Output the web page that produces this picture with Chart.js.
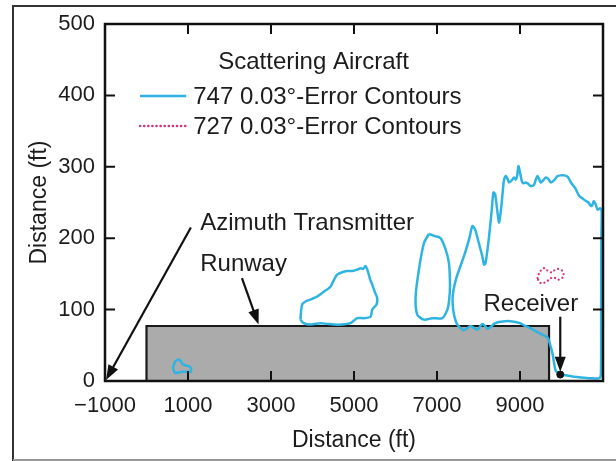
<!DOCTYPE html>
<html><head><meta charset="utf-8">
<script src="https://cdn.jsdelivr.net/npm/chart.js@4.4.1/dist/chart.umd.min.js"></script>
<style>html,body{margin:0;padding:0;background:#fff;}canvas{display:block;}</style>
</head><body>
<canvas id="c" width="616" height="461"></canvas>
<script>
// ---- data ----
const xTickValues = [-1000, 1000, 3000, 5000, 7000, 9000];
const yTickValues = [0, 100, 200, 300, 400, 500];
const innerXTicks = [1000, 3000, 5000, 7000, 9000];
const innerYTicks = [100, 200, 300, 400];

const runway = [[0,0],[0,77],[9700,77],[9700,0]];

const contour747a = [[634,18],[690,27],[760,30],[811,29],[870,24],[931,22],[1052,20],[1069,13],[890,13],[760,12],[690,11],[634,18]];

const contour747b = [[3708,86],[3749,107],[3850,112],[3949,114],[4100,118],[4271,125],[4432,132],[4520,142],[4594,149],[4700,152],[4835,154],[4960,154],[5077,156],[5157,158],[5220,157],[5277,161],[5333,154],[5390,142],[5439,135],[5500,125],[5560,116],[5543,107],[5480,103],[5439,100],[5398,90],[5250,88],[5077,88],[4915,81],[4700,79],[4512,79],[4350,80],[4191,81],[3949,79],[3788,81],[3708,86]];

const contour747c = [[6806,206],[6950,203],[7088,200],[7209,184],[7288,165],[7313,132],[7290,112],[7250,100],[7129,88],[6887,88],[6685,86],[6524,93],[6484,118],[6564,156],[6685,193],[6806,206]];

const contour747d = [[7530,76],[7571,74],[7650,71],[7730,74],[7812,77],[7900,74],[7974,72],[8094,80],[8160,77],[8215,73],[8300,76],[8376,80],[8450,82],[8537,83],[8700,84],[8858,83],[9000,81],[9100,78],[9250,74],[9341,71],[9500,66],[9664,61],[9720,52],[9785,38],[9830,22],[9864,14],[9961,10],[10100,8],[10300,6],[10468,5],[10700,4],[10910,4],[10950,10],[10955,100],[10960,200],[10967,238],[10930,242],[10870,240],[10820,248],[10775,252],[10740,246],[10710,245],[10650,250],[10589,252],[10500,256],[10427,259],[10330,270],[10226,278],[10150,286],[10065,288],[9980,288],[9905,287],[9820,281],[9744,278],[9680,283],[9623,285],[9560,281],[9502,278],[9460,283],[9422,287],[9380,282],[9340,275],[9261,273],[9200,276],[9140,278],[9080,277],[9044,280],[9000,292],[8963,301],[8930,287],[8900,282],[8858,285],[8800,281],[8738,278],[8700,283],[8657,287],[8610,280],[8560,250],[8497,222],[8460,235],[8400,262],[8360,264],[8320,240],[8250,200],[8170,165],[8134,163],[8090,175],[8000,195],[7920,212],[7853,217],[7780,200],[7680,180],[7560,160],[7470,145],[7400,128],[7375,115],[7390,100],[7430,88],[7480,80],[7530,76]];

const contour727 = [[9422,144],[9462,151],[9520,156],[9583,158],[9650,155],[9704,154],[9760,152],[9825,155],[9920,157],[10026,154],[10050,147],[9980,143],[9905,142],[9820,145],[9744,144],[9680,141],[9623,139],[9560,137],[9502,137],[9450,140],[9422,144]];

const receiver = [[9970, 9]];

const legendTitle = 'Scattering Aircraft';
const series747Label = '747 0.03°-Error Contours';
const series727Label = '727 0.03°-Error Contours';
const xTitle = 'Distance (ft)';
const yTitle = 'Distance (ft)';

// ---- styles ----
const BLUE = '#2fb4e2';
const MAGENTA = '#d8307c';
const INK = '#1c1c1c';
const FONT = '"Liberation Sans", Arial, Helvetica, sans-serif';
const toXY = a => a.map(p => ({x: p[0], y: p[1]}));
const fmt = v => v < 0 ? '\u2212' + Math.abs(v) : String(v);

function line747(pts) {
  return {data: toXY(pts), showLine: true, borderColor: BLUE, borderWidth: 2.5, pointRadius: 0, tension: 0.25, fill: false, order: 1};
}

const decor = {
  id: 'decor',
  beforeDraw(chart) {
    const ctx = chart.ctx;
    ctx.save();
    ctx.fillStyle = '#fff';
    ctx.fillRect(0, 0, chart.width, chart.height);
    ctx.strokeStyle = '#333';
    ctx.lineWidth = 2;
    ctx.beginPath();
    ctx.moveTo(13, 461); ctx.lineTo(13, 6); ctx.lineTo(616, 6);
    ctx.stroke();
    ctx.strokeStyle = '#999';
    ctx.beginPath(); ctx.moveTo(13, 460); ctx.lineTo(616, 460); ctx.stroke();
    ctx.restore();
  },
  afterDatasetsDraw(chart) {
    const ctx = chart.ctx;
    const xs = chart.scales.x, ys = chart.scales.y;
    const a = chart.chartArea;
    const X = v => xs.getPixelForValue(v), Y = v => ys.getPixelForValue(v);
    ctx.save();
    // frame
    ctx.strokeStyle = '#111';
    ctx.lineWidth = 2.5;
    ctx.strokeRect(a.left, a.top, a.right - a.left, a.bottom - a.top);
    // inward ticks
    ctx.lineWidth = 2;
    ctx.beginPath();
    innerXTicks.forEach(v => {
      ctx.moveTo(X(v), a.bottom); ctx.lineTo(X(v), a.bottom - 10);
      ctx.moveTo(X(v), a.top); ctx.lineTo(X(v), a.top + 10);
    });
    innerYTicks.forEach(v => {
      ctx.moveTo(a.left, Y(v)); ctx.lineTo(a.left + 10, Y(v));
      ctx.moveTo(a.right, Y(v)); ctx.lineTo(a.right - 10, Y(v));
    });
    ctx.stroke();

    // arrows
    function arrow(x1, y1, x2, y2) {
      const ang = Math.atan2(y2 - y1, x2 - x1);
      const L = 15, W = 5.5;
      ctx.strokeStyle = '#111'; ctx.fillStyle = '#111'; ctx.lineWidth = 2.2;
      ctx.beginPath();
      ctx.moveTo(x1, y1);
      ctx.lineTo(x2 - Math.cos(ang) * L * 0.8, y2 - Math.sin(ang) * L * 0.8);
      ctx.stroke();
      ctx.beginPath();
      ctx.moveTo(x2, y2);
      ctx.lineTo(x2 - Math.cos(ang) * L + Math.sin(ang) * W, y2 - Math.sin(ang) * L - Math.cos(ang) * W);
      ctx.lineTo(x2 - Math.cos(ang) * L - Math.sin(ang) * W, y2 - Math.sin(ang) * L + Math.cos(ang) * W);
      ctx.closePath();
      ctx.fill();
    }
    arrow(X(1069), Y(215), X(-1000) + 1, Y(0) - 1);
    arrow(X(2300), Y(144), X(2701), Y(79));
    arrow(X(9970), Y(90), X(9970), Y(13));

    // texts
    ctx.fillStyle = INK;
    ctx.font = '24px ' + FONT;
    ctx.textBaseline = 'alphabetic';
    ctx.textAlign = 'left';
    ctx.fillText(legendTitle, X(1728), Y(437));
    ctx.fillText(series747Label, X(1125), Y(399) + 8);
    ctx.fillText(series727Label, X(1125), Y(357) + 8);
    ctx.fillText('Azimuth Transmitter', X(1294), Y(212));
    ctx.fillText('Runway', X(1294), Y(154));
    ctx.fillText('Receiver', X(8120), Y(98));

    // legend samples
    ctx.lineWidth = 2.5;
    ctx.strokeStyle = BLUE;
    ctx.beginPath(); ctx.moveTo(X(-155), Y(399)); ctx.lineTo(X(956), Y(399)); ctx.stroke();
    ctx.strokeStyle = MAGENTA;
    ctx.lineCap = 'round';
    ctx.setLineDash([0.1, 4]);
    ctx.beginPath(); ctx.moveTo(X(-155), Y(357)); ctx.lineTo(X(956), Y(357)); ctx.stroke();
    ctx.restore();
  }
};

new Chart(document.getElementById('c'), {
  type: 'scatter',
  data: {
    datasets: [
      {data: toXY(runway), showLine: true, borderColor: '#1a1a1a', borderWidth: 2.2, backgroundColor: '#ababab', fill: 'origin', pointRadius: 0, tension: 0, order: 5},
      line747(contour747a),
      line747(contour747b),
      line747(contour747c),
      line747(contour747d),
      {data: toXY(contour727), showLine: true, borderColor: MAGENTA, borderWidth: 2.2, borderDash: [0.1, 4], borderCapStyle: 'round', pointRadius: 0, tension: 0.3, fill: false, order: 1},
      {data: toXY(receiver), showLine: false, pointRadius: 3.5, pointBackgroundColor: '#111', pointBorderColor: '#111', order: 0}
    ]
  },
  options: {
    responsive: false,
    animation: false,
    layout: {padding: {left: 14, right: 13, top: 24, bottom: 0}},
    plugins: {legend: {display: false}, tooltip: {enabled: false}},
    scales: {
      x: {
        type: 'linear', min: -1000, max: 11000,
        afterBuildTicks: s => { s.ticks = xTickValues.map(v => ({value: v})); },
        afterFit: s => { s.height = 80; },
        grid: {display: false, drawTicks: false},
        border: {display: false},
        ticks: {color: INK, font: {family: FONT, size: 22}, padding: 12, maxRotation: 0, autoSkip: false, callback: v => fmt(v)},
        title: {display: true, text: xTitle, color: INK, font: {family: FONT, size: 23}, padding: {top: 0, bottom: 7}}
      },
      y: {
        type: 'linear', min: 0, max: 500,
        afterBuildTicks: s => { s.ticks = yTickValues.map(v => ({value: v})); },
        afterFit: s => { s.width = 91; },
        grid: {display: false, drawTicks: false},
        border: {display: false},
        ticks: {color: INK, font: {family: FONT, size: 22}, padding: 10, callback: v => fmt(v)},
        title: {display: true, text: yTitle, color: INK, font: {family: FONT, size: 23}, padding: {top: 12, bottom: 0}}
      }
    }
  },
  plugins: [decor]
});
</script>
</body></html>
